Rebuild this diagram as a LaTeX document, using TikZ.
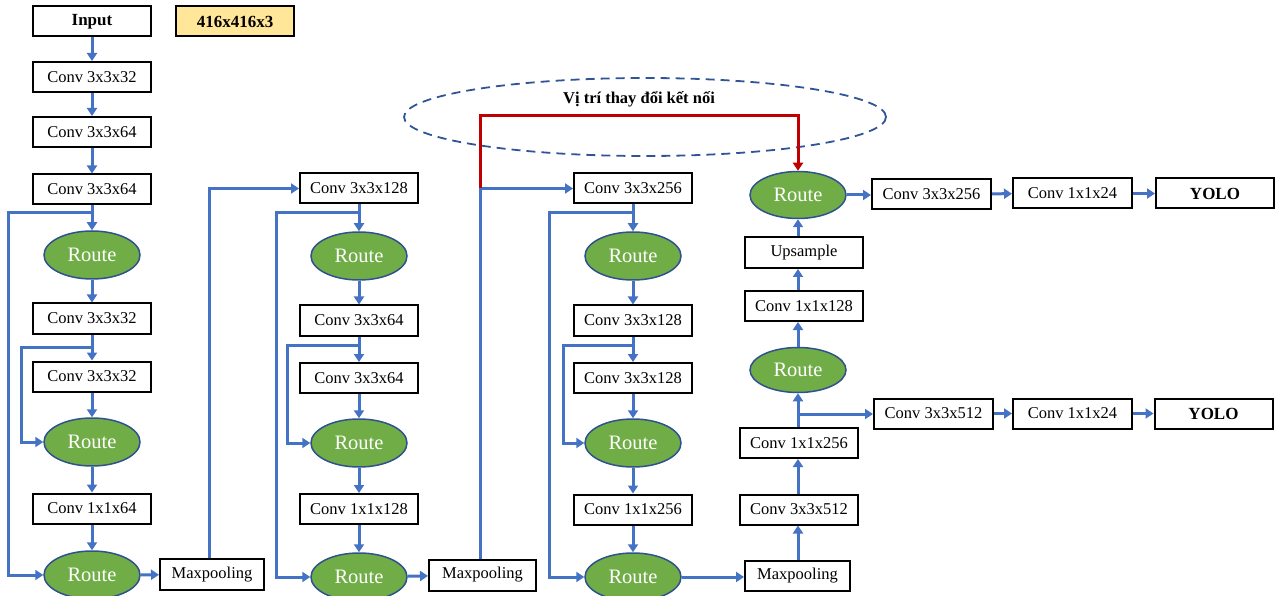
\documentclass[tikz,border=0pt]{standalone}
\usepackage{fontspec}
\setmainfont{Liberation Serif}
\usetikzlibrary{arrows.meta,shapes.geometric}
\definecolor{lblue}{HTML}{4472C4}
\definecolor{dblue}{HTML}{2F5597}
\definecolor{rgreen}{HTML}{70AD47}
\definecolor{rborder}{HTML}{2F528F}
\definecolor{dred}{HTML}{C00000}
\definecolor{ylw}{HTML}{FFE699}
\begin{document}
\begin{tikzpicture}[x=1pt,y=-1pt,
  box/.style={draw=black,line width=2pt,fill=white,minimum width=118pt,minimum height=30pt,inner sep=0pt,font=\fontsize{16.5}{19}\selectfont},
  bbox/.style={box,font=\fontsize{17}{20}\selectfont\bfseries},
  route/.style={ellipse,draw=rborder,line width=1.5pt,fill=rgreen,minimum width=96pt,minimum height=48pt,inner sep=0pt,text=white,font=\fontsize{20.5}{24}\selectfont},
  link/.style={draw=lblue,line width=3pt,-{Triangle[length=8pt,width=10pt]}},
  redlink/.style={draw=dred,line width=3pt,-{Triangle[length=8pt,width=10pt]}}
]
\useasboundingbox (0,0) rectangle (1278,596);

% dashed ellipse and label
\node[ellipse,draw=dblue,line width=1.8pt,dash pattern=on 9pt off 6pt,minimum width=482pt,minimum height=78pt,inner sep=0pt] (hl) at (645,117) {};
\node[font=\fontsize{16.5}{19}\selectfont\bfseries] (hltxt) at (639,99) {Vị trí thay đổi kết nối};

% column 1
\node[bbox] (in) at (92,21.5) {Input};
\node[bbox,fill=ylw] (sz) at (235,21.5) {416x416x3};
\node[box] (c1a) at (92,77) {Conv 3x3x32};
\node[box] (c1b) at (92,132) {Conv 3x3x64};
\node[box] (c1c) at (92,189.5) {Conv 3x3x64};
\node[route] (r1a) at (92,255) {Route};
\node[box] (c1d) at (92,318.5) {Conv 3x3x32};
\node[box] (c1e) at (92,376.5) {Conv 3x3x32};
\node[route] (r1b) at (92,442) {Route};
\node[box] (c1f) at (92,508.5) {Conv 1x1x64};
\node[route] (r1c) at (92,575) {Route};
\node[box,minimum width=104pt,minimum height=31pt] (mp1) at (212,574.5) {Maxpooling};

% column 2
\node[box] (c2a) at (359,188.5) {Conv 3x3x128};
\node[route] (r2a) at (359,256) {Route};
\node[box] (c2b) at (359,320.5) {Conv 3x3x64};
\node[box] (c2c) at (359,378) {Conv 3x3x64};
\node[route] (r2b) at (359,443) {Route};
\node[box] (c2d) at (359,509) {Conv 1x1x128};
\node[route] (r2c) at (359,577) {Route};
\node[box,minimum width=107pt,minimum height=31pt] (mp2) at (482.5,575) {Maxpooling};

% column 3
\node[box] (c3a) at (633,188.5) {Conv 3x3x256};
\node[route] (r3a) at (633,256) {Route};
\node[box] (c3b) at (633,320.5) {Conv 3x3x128};
\node[box] (c3c) at (633,378) {Conv 3x3x128};
\node[route] (r3b) at (633,443) {Route};
\node[box] (c3d) at (633,509.5) {Conv 1x1x256};
\node[route] (r3c) at (633,577) {Route};

% column 4
\node[box,minimum width=105pt] (mp3) at (797.5,576) {Maxpooling};
\node[box] (c4a) at (799,509.5) {Conv 3x3x512};
\node[box] (c4b) at (799,443) {Conv 1x1x256};
\node[route,minimum height=45pt] (r4b) at (798,370) {Route};
\node[box] (c4c) at (804,306) {Conv 1x1x128};
\node[box,minimum height=31pt] (up) at (804,252.5) {Upsample};
\node[route,minimum height=47pt] (r4a) at (798,195) {Route};

% right rows
\node[box,minimum width=119pt] (c5a) at (931.5,194) {Conv 3x3x256};
\node[box,minimum width=119pt] (c5b) at (1072.5,193.5) {Conv 1x1x24};
\node[bbox] (y1) at (1215,193.5) {YOLO};
\node[box,minimum width=119pt] (c6a) at (933.5,413.5) {Conv 3x3x512};
\node[box,minimum width=119pt] (c6b) at (1072.5,413.5) {Conv 1x1x24};
\node[bbox] (y2) at (1213.5,413.5) {YOLO};

\coordinate (j1a) at (92,213);
\coordinate (j1b) at (92,347);
\coordinate (j2a) at (359,213);
\coordinate (j2b) at (359,345);
\coordinate (j3a) at (633,213);
\coordinate (j3b) at (633,345);
\coordinate (m1) at (209,188.5);
\coordinate (m2) at (480,188.5);
\coordinate (rt) at (480,116);
\coordinate (j4) at (798,414);

% column 1 links
\draw[link] (in) -- (c1a);
\draw[link] (c1a) -- (c1b);
\draw[link] (c1b) -- (c1c);
\draw[link] (c1c) -- (r1a);
\draw[link] (r1a) -- (c1d);
\draw[link] (c1d) -- (c1e);
\draw[link] (c1e) -- (r1b);
\draw[link] (r1b) -- (c1f);
\draw[link] (c1f) -- (r1c);
\draw[link] (r1c) -- (mp1);
\draw[link] (j1a) -- (8,213) |- (r1c.west);
\draw[link] (j1b) -- (21,347) |- (r1b.west);
\draw[link] (mp1.north -| m1) -- (m1) -- (c2a.west);

% column 2 links
\draw[link] (c2a) -- (r2a);
\draw[link] (r2a) -- (c2b);
\draw[link] (c2b) -- (c2c);
\draw[link] (c2c) -- (r2b);
\draw[link] (r2b) -- (c2d);
\draw[link] (c2d) -- (r2c);
\draw[link] (r2c) -- (mp2);
\draw[link] (j2a) -- (276,213) |- (r2c.west);
\draw[link] (j2b) -- (287,345) |- (r2b.west);
\draw[link] (mp2.north -| m2) -- (m2) -- (c3a.west);

% red connection
\draw[redlink] (m2) -- (rt) -| (r4a.north);

% column 3 links
\draw[link] (c3a) -- (r3a);
\draw[link] (r3a) -- (c3b);
\draw[link] (c3b) -- (c3c);
\draw[link] (c3c) -- (r3b);
\draw[link] (r3b) -- (c3d);
\draw[link] (c3d) -- (r3c);
\draw[link] (j3a) -- (549,213) |- (r3c.west);
\draw[link] (j3b) -- (563,345) |- (r3b.west);
\draw[link] (r3c.east) -- (mp3.west |- r3c.east);

% column 4 links
\draw[link] (mp3.north -| j4) -- (c4a.south -| j4);
\draw[link] (c4a.north -| j4) -- (c4b.south -| j4);
\draw[link] (c4b.north -| j4) -- (r4b.south);
\draw[link] (j4) -- (c6a.west |- j4);
\draw[link] (r4b.north) -- (c4c.south -| r4b.north);
\draw[link] (c4c.north -| r4b.north) -- (up.south -| r4b.north);
\draw[link] (up.north -| r4a.south) -- (r4a.south);

% right rows
\draw[link] (r4a.east) -- (c5a.west |- r4a.east);
\draw[link] (c5a) -- (c5b);
\draw[link] (c5b) -- (y1);
\draw[link] (c6a) -- (c6b);
\draw[link] (c6b) -- (y2);
\end{tikzpicture}
\end{document}
